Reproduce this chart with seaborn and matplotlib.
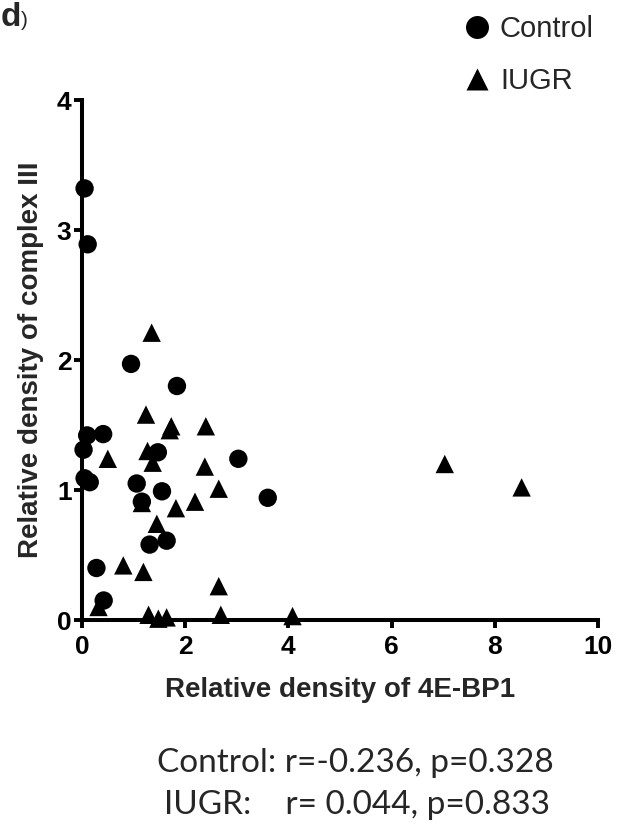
import numpy as np
import pandas as pd
import matplotlib
matplotlib.use("Agg")
import matplotlib.pyplot as plt
import seaborn as sns

# ---- data ----
control_x = [0.05, 0.11, 0.95, 1.84, 0.10, 0.41, 0.03, 1.47, 0.05, 0.15,
             1.06, 1.55, 1.16, 3.03, 3.60, 1.31, 1.64, 0.28, 0.42]
control_y = [3.32, 2.89, 1.97, 1.80, 1.42, 1.43, 1.31, 1.29, 1.09, 1.06,
             1.05, 0.99, 0.91, 1.24, 0.94, 0.58, 0.61, 0.40, 0.15]

iugr_x = [1.35, 1.24, 1.73, 1.70, 2.40, 0.50, 1.27, 1.37, 2.38, 2.65,
          2.19, 1.82, 1.45, 0.80, 1.19, 2.65, 0.32, 1.29, 1.48, 1.64,
          2.69, 4.08, 1.16, 7.03, 8.52]
iugr_y = [2.21, 1.58, 1.49, 1.46, 1.49, 1.24, 1.30, 1.21, 1.18, 1.01,
          0.91, 0.86, 0.74, 0.42, 0.37, 0.26, 0.10, 0.04, 0.01, 0.02,
          0.04, 0.03, 0.90, 1.20, 1.02]

groups = ["Control", "IUGR"]
x_ticks = [0, 2, 4, 6, 8, 10]
y_ticks = [0, 1, 2, 3, 4]
x_label = "Relative density of 4E-BP1"
y_label = "Relative density of complex III"
stats_lines = ["Control: r=-0.236, p=0.328", "IUGR:    r= 0.044, p=0.833"]

df = pd.DataFrame({
    "x": control_x + iugr_x,
    "y": control_y + iugr_y,
    "group": [groups[0]] * len(control_x) + [groups[1]] * len(iugr_x),
})

sns.set_style("ticks")
plt.rcParams["font.family"] = ["Liberation Sans", "DejaVu Sans"]

W, H = 635, 832
fig = plt.figure(figsize=(W / 100, H / 100), dpi=100)
ax = fig.add_axes([82 / W, 1 - 620 / H, (598 - 82) / W, (620 - 100) / H])

sns.scatterplot(data=df, x="x", y="y", style="group", style_order=groups,
                markers={"Control": "o", "IUGR": "^"}, color="black",
                edgecolor="none", s=175, ax=ax, zorder=3, clip_on=False)

ax.set_xlim(0, 10)
ax.set_ylim(0, 4)
ax.set_xticks(x_ticks)
ax.set_yticks(y_ticks)
ax.set_xticklabels([str(t) for t in x_ticks])
ax.set_yticklabels([str(t) for t in y_ticks])
for side in ["top", "right"]:
    ax.spines[side].set_visible(False)
for side in ["left", "bottom"]:
    ax.spines[side].set_linewidth(2.9)
    ax.spines[side].set_color("black")
ax.tick_params(axis="both", direction="out", length=5.5, width=2.8,
               color="black", labelcolor="black", labelsize=19)
ax.tick_params(axis="x", pad=5)
ax.tick_params(axis="y", pad=2)
for lab in ax.get_xticklabels() + ax.get_yticklabels():
    lab.set_fontweight("bold")

ax.set_xlabel(x_label, fontsize=20, fontweight="bold")
ax.set_ylabel(y_label, fontsize=20, fontweight="bold")
ax.xaxis.set_label_coords(0.5, -0.11)
ax.yaxis.set_label_coords(-0.074, 0.5)

sns.move_legend(ax, loc="upper left", bbox_to_anchor=(462 / W, 1 - 15 / H),
                bbox_transform=fig.transFigure, frameon=False, title=None,
                fontsize=21, handlelength=1.0, handletextpad=0.3,
                borderpad=0, borderaxespad=0, labelspacing=0.82, markerscale=1.25)

fig.text(1 / W, 1 - 18 / H, "d", fontsize=24, fontweight="bold", va="center", ha="left")
fig.text(21 / W, 1 - 21 / H, ")", fontsize=15, va="center", ha="left")

fig.text(355 / W, 1 - 763 / H, stats_lines[0], fontsize=24, family="Lato",
         ha="center", va="center")
fig.text(357 / W, 1 - 805 / H, stats_lines[1], fontsize=24, family="Lato",
         ha="center", va="center")

fig.savefig("out.png", dpi=100)
